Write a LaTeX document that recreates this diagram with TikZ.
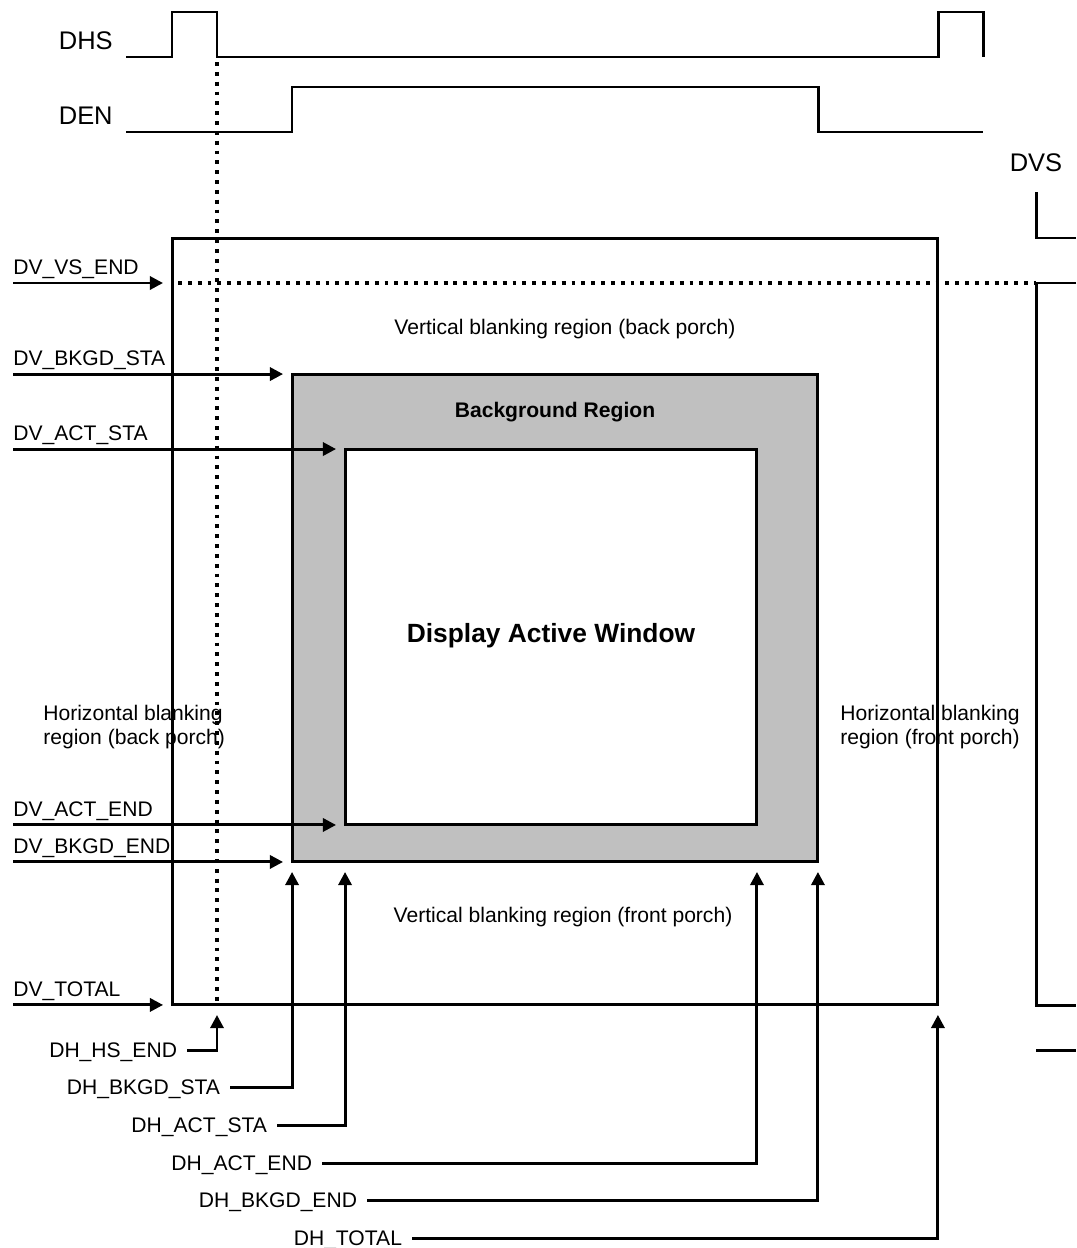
\documentclass[tikz,border=0pt]{standalone}
\usepackage{fontspec}
\setmainfont{Liberation Sans}
\usepackage{xcolor}
\usepackage{tikz}
\usetikzlibrary{arrows.meta,positioning,calc}
\definecolor{bkgdgray}{RGB}{192,192,192}

\begin{document}
\begin{tikzpicture}[
  x=0.02cm, y=-0.02cm,
  wave/.style={line width=1.7pt},
  frame/.style={draw, line width=1.7pt, inner sep=0pt, outer sep=0pt},
  dotline/.style={line width=1.8pt, dash pattern=on 2.2pt off 3.4pt},
  arr/.style={-{Triangle[length=7.5pt,width=7.5pt]}, line width=1.7pt},
  sig/.style={font=\fontsize{14.5}{16}\selectfont, inner sep=0pt},
  lbl/.style={font=\fontsize{12}{14}\selectfont, inner sep=0pt, text depth=0pt},
  hlbl/.style={lbl, anchor=east, outer xsep=0.2cm, outer ysep=0pt},
  note/.style={font=\fontsize{12}{13.2}\selectfont, inner sep=0pt, align=left},
  title/.style={font=\fontsize{12}{14}\selectfont\bfseries, inner sep=0pt}
]
\useasboundingbox (0,0) rectangle (1076,1248);

% sync waveforms
\node[sig, anchor=east] (dhs) at (113,41) {DHS};
\node[sig, anchor=east] (den) at (113,116) {DEN};
\node[sig] (dvs) at (1036,163) {DVS};
\draw[wave] (126,57) -- (172,57) -- (172,12) -- (217,12) -- (217,57) -- (938,57) -- (938,12) -- (983,12) -- (983,57);
\draw[wave] (126,132) -- (292,132) -- (292,87) -- (818,87) -- (818,132) -- (983,132);
\draw[wave] (1036,192) -- (1036,238) -- (1076,238);
\draw[wave] (1076,283) -- (1036,283) -- (1036,1005) -- (1076,1005);
\draw[wave] (1036,1050) -- (1076,1050);

% regions
\node[frame, minimum width=15.32cm, minimum height=15.34cm] (outer) at (555,621.5) {};
\node[frame, fill=bkgdgray, minimum width=10.52cm, minimum height=9.76cm] (bkgd) at (555,618) {};
\node[frame, fill=white, minimum width=8.24cm, minimum height=7.52cm] (act) at (551,637) {};

\coordinate (hsfall) at (217,62);
\coordinate (hsend) at (217,1005);
\coordinate (vsend) at (172,283);
\coordinate (dvsfall) at (1036,283);
\draw[dotline] (hsfall) -- (hsend);
\draw[dotline, shorten <=0.12cm] (vsend) -- (dvsfall);

\node[lbl] (vbp) at (565,327) {Vertical blanking region (back porch)};
\node[title] (bkgdtitle) at (555,412) {Background Region};
\node[font=\fontsize{15}{17}\selectfont\bfseries, inner sep=0pt] (acttitle) at (551,636) {Display Active Window};
\node[note, anchor=west] (hbp) at (43,727) {Horizontal blanking\\region (back porch)};
\node[note, anchor=west] (hfp) at (840,727) {Horizontal blanking\\region (front porch)};
\node[lbl] (vfp) at (563,915) {Vertical blanking region (front porch)};

% vertical timing
\node[lbl, anchor=base west] (dvvsend) at (13,274) {DV\_VS\_END};
\node[lbl, anchor=base west] (dvbkgdsta) at (13,365) {DV\_BKGD\_STA};
\node[lbl, anchor=base west] (dvactsta) at (13,440) {DV\_ACT\_STA};
\node[lbl, anchor=base west] (dvactend) at (13,816) {DV\_ACT\_END};
\node[lbl, anchor=base west] (dvbkgdend) at (13,853) {DV\_BKGD\_END};
\node[lbl, anchor=base west] (dvtotal) at (13,996) {DV\_TOTAL};
\draw[arr, shorten >=0.18cm] (dvvsend.base west |- vsend) -- (vsend);
\draw[arr, shorten >=0.18cm] (dvbkgdsta.base west |- bkgd.north west) -- (bkgd.north west);
\draw[arr, shorten >=0.18cm] (dvactsta.base west |- act.north west) -- (act.north west);
\draw[arr, shorten >=0.18cm] (dvactend.base west |- act.south west) -- (act.south west);
\draw[arr, shorten >=0.18cm] (dvbkgdend.base west |- bkgd.south west) -- (bkgd.south west);
\draw[arr, shorten >=0.18cm] (dvtotal.base west |- outer.south west) -- (outer.south west);

% horizontal timing
\node[hlbl] (dhhsend) at (187,1050) {DH\_HS\_END};
\node[hlbl] (dhbkgdsta) at (230,1087) {DH\_BKGD\_STA};
\node[hlbl] (dhactsta) at (277,1125) {DH\_ACT\_STA};
\node[hlbl] (dhactend) at (322,1163) {DH\_ACT\_END};
\node[hlbl] (dhbkgdend) at (367,1200) {DH\_BKGD\_END};
\node[hlbl] (dhtotal) at (412,1238) {DH\_TOTAL};
\draw[arr, shorten >=0.2cm] (dhhsend.east) -| (hsend);
\draw[arr, shorten >=0.2cm] (dhbkgdsta.east) -| (bkgd.south west);
\draw[arr, shorten >=0.2cm] (dhactsta.east) -| (act.south west |- bkgd.south);
\draw[arr, shorten >=0.2cm] (dhactend.east) -| (act.south east |- bkgd.south);
\draw[arr, shorten >=0.2cm] (dhbkgdend.east) -| (bkgd.south east);
\draw[arr, shorten >=0.2cm] (dhtotal.east) -| (outer.south east);
\end{tikzpicture}
\end{document}
